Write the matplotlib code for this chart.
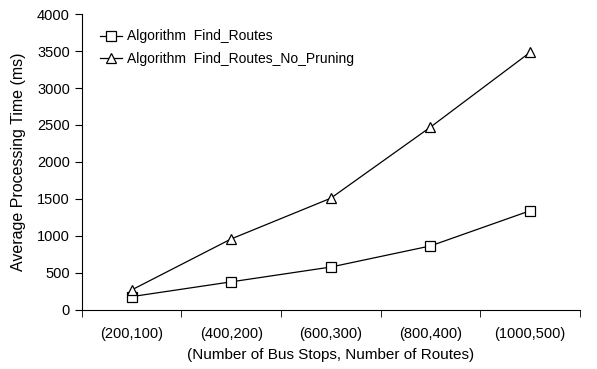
import numpy as np
from matplotlib import pyplot as plt

plt.rcParams['font.family'] = ['Liberation Sans', 'DejaVu Sans']
plt.rcParams['font.size'] = 10.5

categories = ['(200,100)', '(400,200)', '(600,300)', '(800,400)', '(1000,500)']
find_routes = [180, 380, 580, 865, 1340]
find_routes_no_pruning = [270, 960, 1510, 2470, 3480]

fig = plt.figure(figsize=(5.97, 3.69), dpi=100)
ax = fig.add_axes([0.137, 0.160, 0.834, 0.802])

x = np.arange(len(categories)) + 0.5
ax.plot(x, find_routes, color='black', linewidth=0.9, marker='s', markersize=7.5,
        markerfacecolor='white', markeredgecolor='black', markeredgewidth=0.9,
        label='Algorithm  Find_Routes')
ax.plot(x, find_routes_no_pruning, color='black', linewidth=0.9, marker='^', markersize=7.5,
        markerfacecolor='white', markeredgecolor='black', markeredgewidth=0.9,
        label='Algorithm  Find_Routes_No_Pruning')

ax.set_xlim(0, len(categories))
ax.set_ylim(0, 4000)
ax.set_yticks(range(0, 4001, 500))
ax.set_xticks(x)
ax.set_xticklabels(categories)
ax.set_xticks(np.arange(len(categories) + 1), minor=True)
ax.tick_params(axis='x', which='major', length=0, pad=12)
ax.tick_params(axis='x', which='minor', length=5, direction='out')
ax.tick_params(axis='y', length=5, direction='out')

for side in ['top', 'right']:
    ax.spines[side].set_visible(False)

ax.set_xlabel('(Number of Bus Stops, Number of Routes)', fontsize=11, labelpad=5)
ax.set_ylabel('Average Processing Time (ms)', fontsize=11.5, labelpad=8)

ax.legend(loc='upper left', bbox_to_anchor=(0.012, 0.99), frameon=False, fontsize=10,
          handlelength=1.6, handletextpad=0.3, labelspacing=0.6)

plt.savefig('out.png')
